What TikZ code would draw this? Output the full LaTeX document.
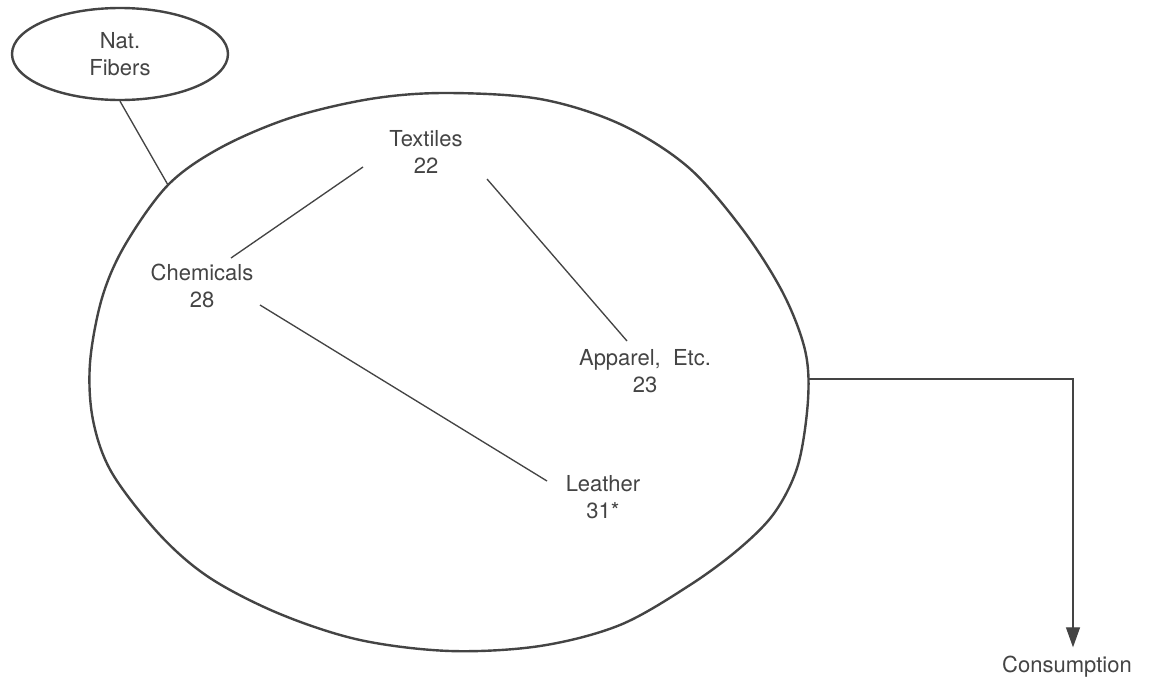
\documentclass[tikz,border=0pt]{standalone}
\usepackage{fontspec}
\setmainfont{TeX Gyre Heros}
\usetikzlibrary{arrows.meta,shapes.geometric}
\definecolor{ink}{HTML}{444444}
\begin{document}
\begin{tikzpicture}[x=0.75pt,y=-0.75pt,
  lbl/.style={align=center,text=ink,font=\fontsize{16.5}{20}\selectfont,inner sep=0pt},
  rim/.style={draw=ink,line width=1.8pt},
  link/.style={draw=ink,line width=1pt}]
\useasboundingbox[fill=white] (0,0) rectangle (1153,682);
% large enclosing oval
\draw[rim] plot[smooth cycle,tension=0.55] coordinates {
  (445,93) (540,99) (620,124) (688,167) (743,230) (783,293) (805,350)
  (808,400) (798,465) (775,512) (740,548) (690,585) (620,625) (540,646)
  (450,651) (360,640) (280,614) (210,578) (160,535) (112,473) (93,420)
  (90,363) (102,298) (125,245) (168,185) (220,148) (290,118) (370,99)};
\coordinate (natjoin) at (168,185);
\coordinate (consjoin) at (808,379);
% small oval
\node (nat) [ellipse,rim,minimum width=162pt,minimum height=69pt,inner sep=0pt,
  align=center,text=ink,font=\fontsize{16.5}{20}\selectfont] at (120,54) {Nat.\\Fibers};
% labels
\node (tex) [lbl] at (426,152) {Textiles\\22};
\node (chem) [lbl] at (202,286) {Chemicals\\28};
\node (app) [lbl] at (645,371) {Apparel,\ \ Etc.\\23};
\node (lea) [lbl] at (603,497) {Leather\\31*};
\node (cons) [lbl,anchor=base] at (1067,672) {Consumption};
% connectors
\draw[link] (nat.south) -- (natjoin);
\draw[link] ([shift={(-63,15)}]tex.center) -- ([shift={(29,-28)}]chem.center);
\draw[link] ([shift={(61,27)}]tex.center) -- ([shift={(-18,-30)}]app.center);
\draw[link] ([shift={(58,19)}]chem.center) -- ([shift={(-56,-16)}]lea.center);
\draw[link,-{Triangle[length=15pt,width=10.5pt]},shorten >=6pt] (consjoin) -| ([xshift=4.5pt]cons.north);
\end{tikzpicture}
\end{document}
